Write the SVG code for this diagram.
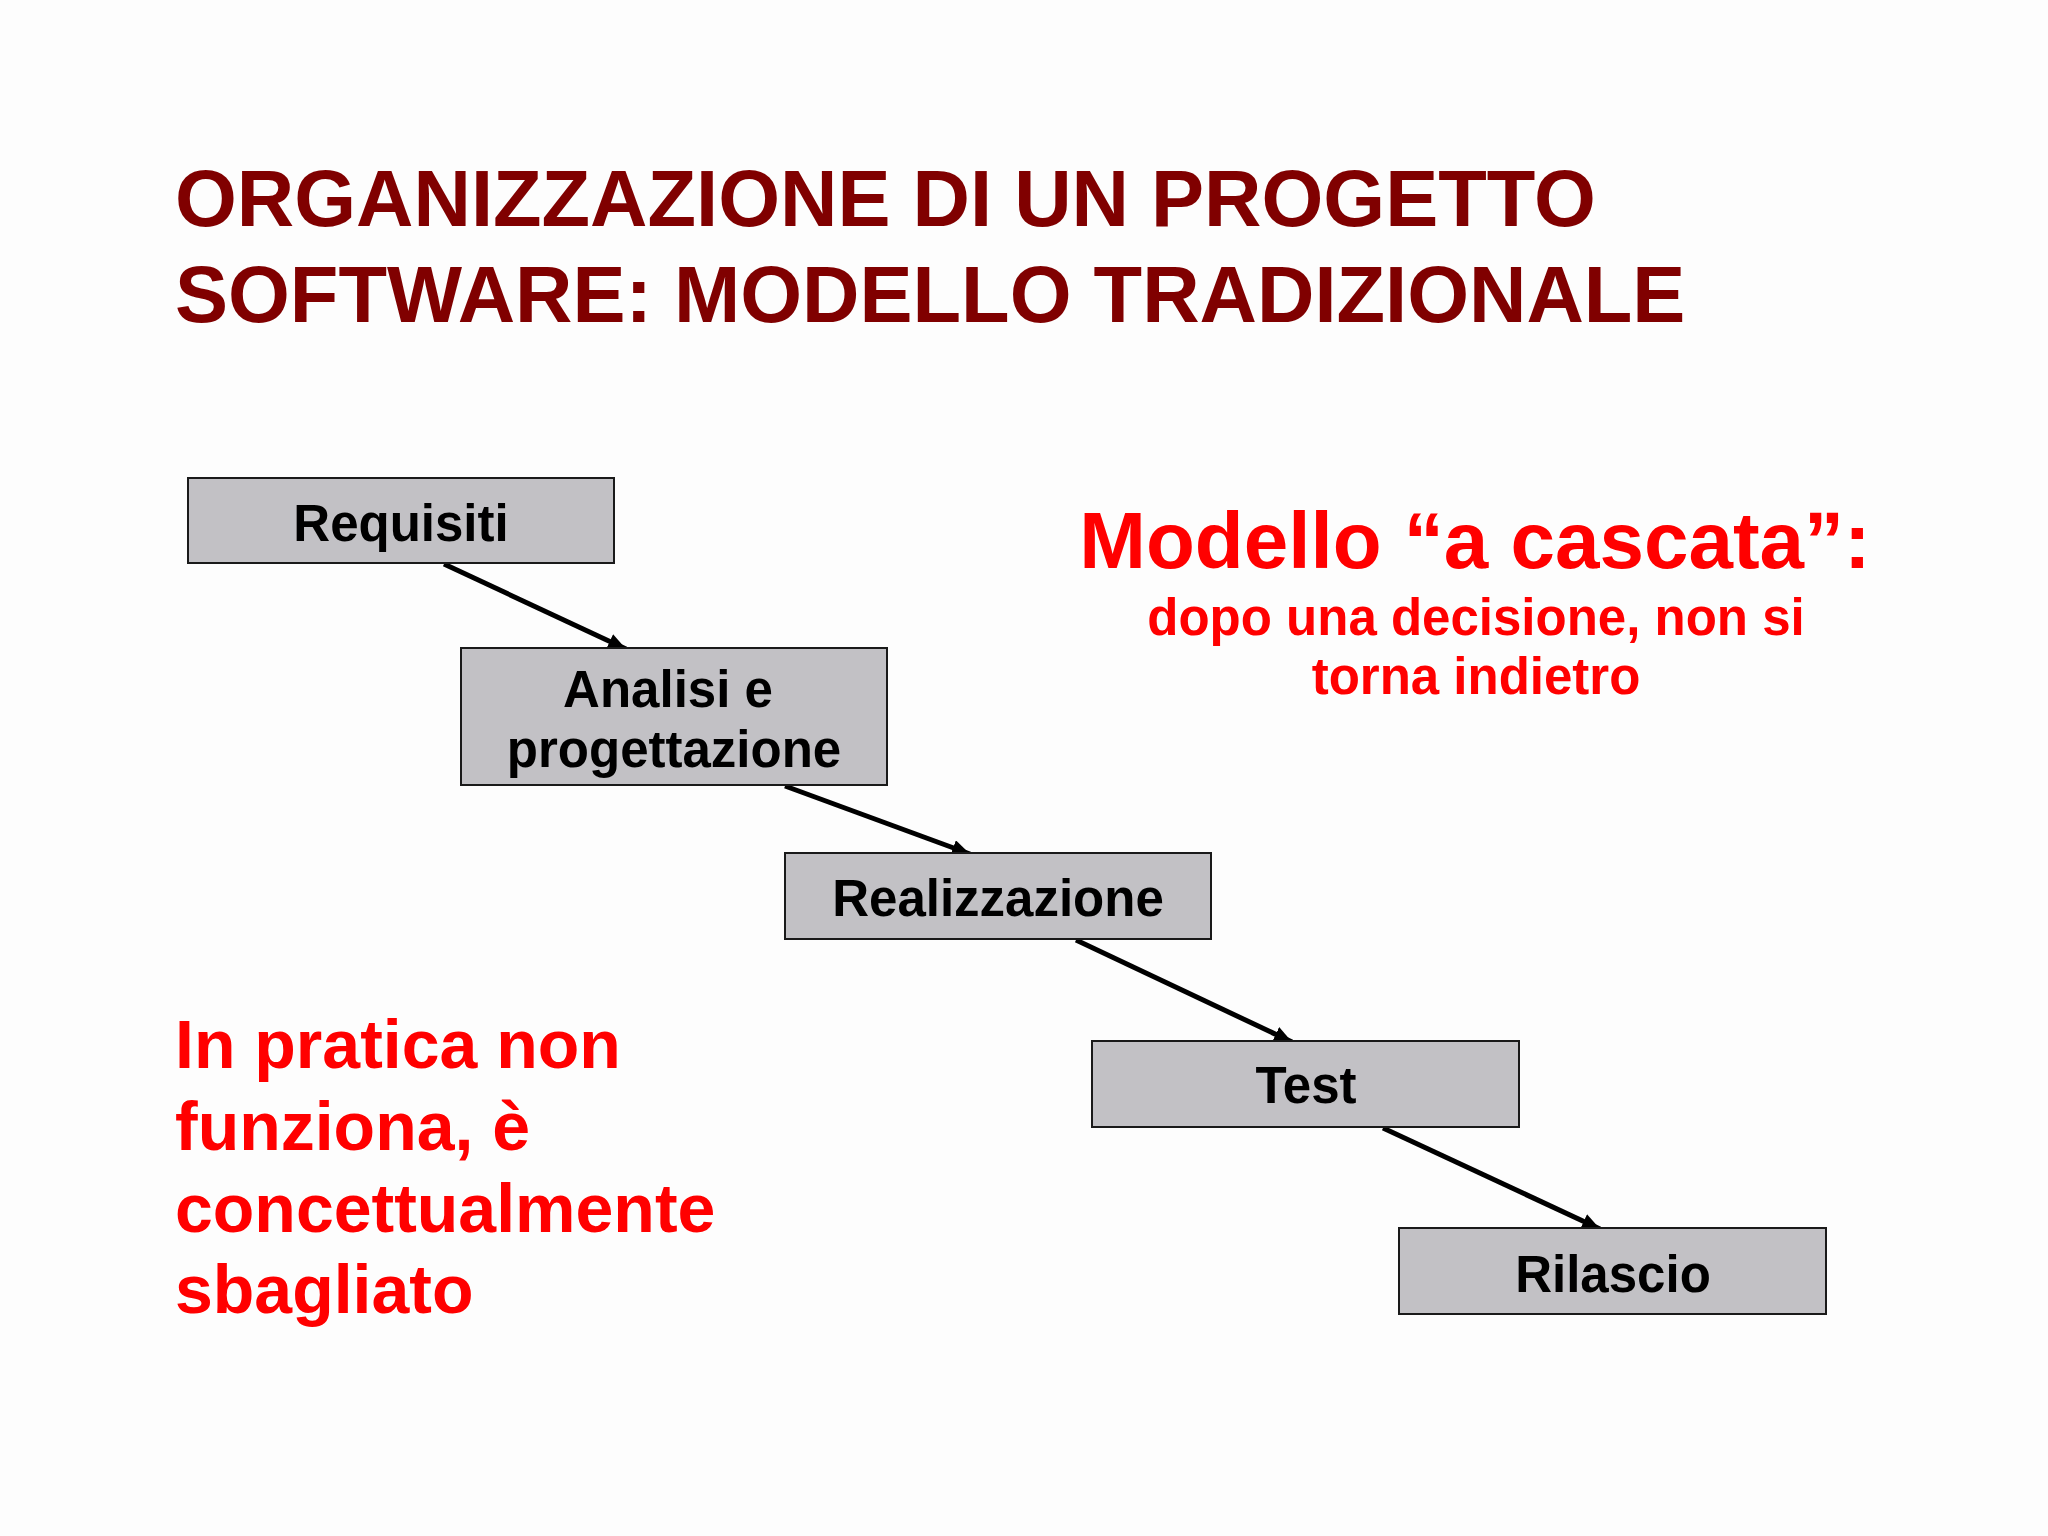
<svg xmlns="http://www.w3.org/2000/svg" width="2048" height="1536" viewBox="0 0 2048 1536">
<style>
.title{font-family:"Liberation Sans",Arial,sans-serif;font-weight:bold;font-size:79.5px;fill:#800000}
.box{fill:#c2c1c5;stroke:#1a1a1a;stroke-width:2}
.lbl{font-family:"Liberation Sans",Arial,sans-serif;font-weight:bold;font-size:51px;fill:#000;text-anchor:middle}
.red{font-family:"Liberation Sans",Arial,sans-serif;font-weight:bold;fill:#ff0000}
.conn{stroke:#000;stroke-width:5;fill:none;marker-end:url(#arr)}
</style>
<defs>
<marker id="arr" markerUnits="userSpaceOnUse" markerWidth="20" markerHeight="16" refX="18" refY="8" orient="auto">
<path d="M0,0 L18,8 L0,16 Z" fill="#000"/>
</marker>
</defs>
<rect width="2048" height="1536" fill="#fdfdfd"/>
<g id="title">
<text class="title" x="175" y="226">ORGANIZZAZIONE DI UN PROGETTO</text>
<text class="title" x="175" y="322">SOFTWARE: MODELLO TRADIZIONALE</text>
</g>
<g id="connectors">
<line class="conn" x1="444" y1="564" x2="626" y2="649"/>
<line class="conn" x1="785" y1="786" x2="970" y2="854"/>
<line class="conn" x1="1076" y1="940" x2="1292" y2="1042"/>
<line class="conn" x1="1383" y1="1128" x2="1600" y2="1229"/>
</g>
<g id="requisiti">
<rect class="box" x="188" y="478" width="426" height="85"/>
<text class="lbl" x="401" y="541">Requisiti</text>
</g>
<g id="analisi">
<rect class="box" x="461" y="648" width="426" height="137"/>
<text class="lbl" x="668" y="707">Analisi e</text>
<text class="lbl" x="674" y="767">progettazione</text>
</g>
<g id="realizzazione">
<rect class="box" x="785" y="853" width="426" height="86"/>
<text class="lbl" x="998" y="916">Realizzazione</text>
</g>
<g id="test">
<rect class="box" x="1092" y="1041" width="427" height="86"/>
<text class="lbl" x="1306" y="1103">Test</text>
</g>
<g id="rilascio">
<rect class="box" x="1399" y="1228" width="427" height="86"/>
<text class="lbl" x="1613" y="1292">Rilascio</text>
</g>
<g id="note-cascata">
<text class="red" x="1475" y="568" font-size="80" text-anchor="middle">Modello “a cascata”:</text>
<text class="red" x="1476" y="635" font-size="51" text-anchor="middle">dopo una decisione, non si</text>
<text class="red" x="1476" y="694" font-size="51" text-anchor="middle">torna indietro</text>
</g>
<g id="note-pratica">
<text class="red" font-size="68" x="175" y="1068">In pratica non</text>
<text class="red" font-size="68" x="175" y="1150">funziona, è</text>
<text class="red" font-size="68" x="175" y="1232">concettualmente</text>
<text class="red" font-size="68" x="175" y="1313">sbagliato</text>
</g>
</svg>
